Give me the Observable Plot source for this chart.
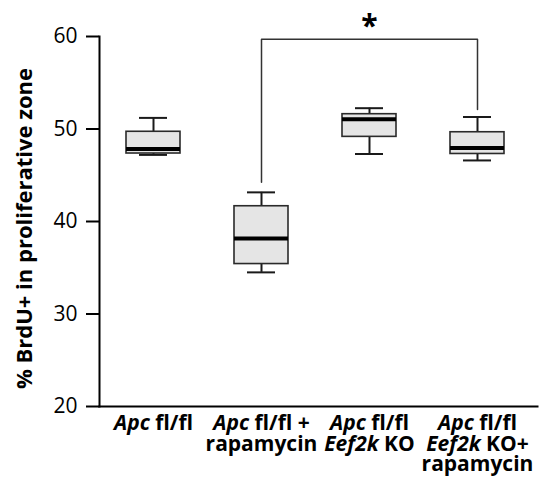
<!DOCTYPE html>
<html>
<head>
<meta charset="utf-8">
<script src="https://cdn.jsdelivr.net/npm/d3@7"></script>
<script src="https://cdn.jsdelivr.net/npm/@observablehq/plot@0.6"></script>
<style>
  html, body { margin: 0; padding: 0; background: white; }
</style>
</head>
<body>
<div id="chart"></div>
<script>
const categories = ["Apc fl/fl", "Apc fl/fl + rapamycin", "Apc fl/fl Eef2k KO", "Apc fl/fl Eef2k KO + rapamycin"];
const tickLabels = ["*Apc* fl/fl", "*Apc* fl/fl +\nrapamycin", "*Apc* fl/fl\n*Eef2k* KO", "*Apc* fl/fl\n*Eef2k* KO+\nrapamycin"];
const whiskerLow = [47.2, 34.5, 47.3, 46.6];
const q1 = [47.35, 35.4, 49.15, 47.3];
const median = [47.85, 38.15, 51.05, 47.95];
const q3 = [49.7, 41.65, 51.6, 49.65];
const whiskerHigh = [51.2, 43.15, 52.25, 51.3];
const yTicks = [20, 30, 40, 50, 60];
const yLabel = "% BrdU+ in proliferative zone";
const sigFrom = categories[1], sigTo = categories[3];
const sigY = 59.7, sigFromEnd = 44.25, sigToEnd = 52.1, sigLabel = "*";

const boxes = categories.map((c, i) => ({
  cat: c, lo: whiskerLow[i], q1: q1[i], med: median[i], q3: q3[i], hi: whiskerHigh[i]
}));
const bracket = [
  {x: sigFrom, y: sigFromEnd}, {x: sigFrom, y: sigY},
  {x: sigTo, y: sigY}, {x: sigTo, y: sigToEnd}
];
const labelMap = new Map(categories.map((c, i) => [c, tickLabels[i]]));

const chart = Plot.plot({
  width: 546, height: 483,
  marginTop: 36, marginBottom: 77, marginLeft: 99, marginRight: 9,
  style: {fontFamily: "'Open Sans', sans-serif", background: "white", color: "black"},
  x: {type: "band", domain: categories, paddingInner: 0.5, paddingOuter: 0.265, align: 0.45},
  y: {domain: [20, 60]},
  marks: [
    Plot.ruleX(boxes, {x: "cat", y1: "lo", y2: "q1", stroke: "#1a1a1a", strokeWidth: 2}),
    Plot.ruleX(boxes, {x: "cat", y1: "q3", y2: "hi", stroke: "#1a1a1a", strokeWidth: 2}),
    Plot.tickY(boxes, {x: "cat", y: "lo", stroke: "#1a1a1a", strokeWidth: 2, insetLeft: 13, insetRight: 13}),
    Plot.tickY(boxes, {x: "cat", y: "hi", stroke: "#1a1a1a", strokeWidth: 2, insetLeft: 13, insetRight: 13}),
    Plot.barY(boxes, {x: "cat", y1: "q1", y2: "q3", fill: "#e5e5e5", stroke: "#2a2a2a", strokeWidth: 1.6}),
    Plot.tickY(boxes, {x: "cat", y: "med", stroke: "black", strokeWidth: 4}),
    Plot.line(bracket, {x: "x", y: "y", stroke: "#333", strokeWidth: 1.5}),
    Plot.text([sigLabel], {x: () => categories[2], y: () => sigY, text: d => d, dy: -13, fontSize: 30, fontWeight: "bold", fill: "black"}),
    Plot.axisY({ticks: yTicks, tickSize: 13, tickPadding: 9, strokeWidth: 2, fontSize: 21, label: null, stroke: "black"}),
    Plot.axisX({tickSize: 0, tickPadding: 9, fontSize: 21, fontWeight: "bold", lineHeight: 0.98, label: null, tickFormat: d => labelMap.get(d)}),
    Plot.frame({anchor: "left", strokeWidth: 2}),
    Plot.frame({anchor: "bottom", strokeWidth: 2}),
    Plot.text([yLabel], {frameAnchor: "left", textAnchor: "middle", rotate: -90, dx: -75, dy: 7, text: d => d, fontSize: 22, fontWeight: "bold", fill: "black"})
  ]
});

// italicize segments wrapped in * in tick labels
chart.querySelectorAll('g[aria-label="x-axis tick label"] text').forEach(t => {
  const targets = t.querySelectorAll("tspan").length ? Array.from(t.querySelectorAll("tspan")) : [t];
  targets.forEach(el => {
    const s = el.textContent;
    if (!s.includes("*")) return;
    el.textContent = "";
    s.split("*").forEach((part, i) => {
      if (!part) return;
      const sp = document.createElementNS("http://www.w3.org/2000/svg", "tspan");
      if (i % 2 === 1) sp.setAttribute("font-style", "italic");
      sp.textContent = part;
      el.appendChild(sp);
    });
  });
});

document.getElementById("chart").appendChild(chart);
</script>
</body>
</html>
